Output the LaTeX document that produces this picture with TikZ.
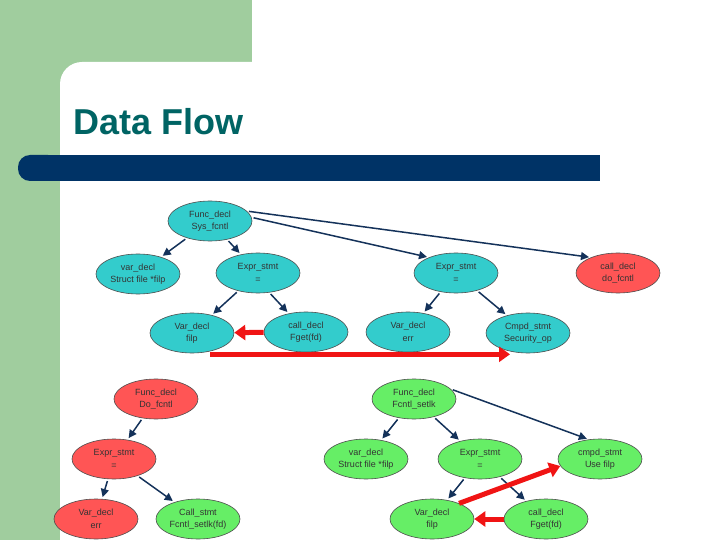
\documentclass[tikz,border=0pt]{standalone}
\usepackage{fontspec}
\setmainfont{Liberation Sans}
\usetikzlibrary{shapes.geometric,arrows.meta}
\definecolor{slidegreen}{RGB}{160,205,158}
\definecolor{barblue}{RGB}{0,51,102}
\definecolor{titleteal}{RGB}{0,100,100}
\definecolor{cyanfill}{RGB}{51,204,204}
\definecolor{redfill}{RGB}{255,85,85}
\definecolor{greenfill}{RGB}{102,238,102}
\definecolor{arrowblue}{RGB}{20,50,90}
\definecolor{deparrow}{RGB}{240,20,20}
\begin{document}
\begin{tikzpicture}[x=1pt,y=-1pt,
	astnode/.style={ellipse, draw=black!70, line width=0.6pt, minimum width=84pt, minimum height=40pt, inner sep=0pt, align=center, text=black!80, font=\fontsize{9}{12.5}\selectfont},
	cnode/.style={astnode, fill=cyanfill},
	rnode/.style={astnode, fill=redfill},
	gnode/.style={astnode, fill=greenfill},
	flow/.style={-{Triangle[length=8pt,width=8pt]}, arrowblue, line width=1.5pt, shorten <=2pt, shorten >=2pt},
	dep/.style={-{Triangle[length=11pt,width=15pt]}, deparrow, line width=5pt}]
	\useasboundingbox (0,0) rectangle (720,540);
	% slide background
	\fill[slidegreen] (0,0) rectangle (252,100);
	\fill[slidegreen] (0,0) rectangle (60,540);
	\fill[white, rounded corners=22pt] (60,62) rectangle (760,580);
	\fill[barblue, rounded corners=12pt] (18,155) rectangle (60,181);
	\fill[barblue] (40,155) rectangle (600,181);
	\node[anchor=base west, text=titleteal, font=\fontsize{36}{40}\selectfont\bfseries, inner sep=0pt] (title) at (73,135) {Data Flow};
	% tree of Sys_fcntl
	\node[cnode] (sysfcntl) at (210,221) {Func\_decl\\Sys\_fcntl};
	\node[cnode] (svar) at (138,274) {var\_decl\\Struct file *filp};
	\node[cnode] (sexpr) at (258,273) {Expr\_stmt\\=};
	\node[cnode] (sexprb) at (456,273) {Expr\_stmt\\=};
	\node[rnode] (sdo) at (618,273) {call\_decl\\do\_fcntl};
	\node[cnode] (sfilp) at (192,333) {Var\_decl\\filp};
	\node[cnode] (sfget) at (306,332) {call\_decl\\Fget(fd)};
	\node[cnode] (serr) at (408,332) {Var\_decl\\err};
	\node[cnode] (scmpd) at (528,333) {Cmpd\_stmt\\Security\_op};
	\draw[flow] (sysfcntl) -- (svar);
	\draw[flow] (sysfcntl) -- (sexpr);
	\draw[flow] (sysfcntl.5) -- (sexprb.150);
	\draw[flow] (sysfcntl.15) -- (sdo.150);
	\draw[flow] (sexpr) -- (sfilp);
	\draw[flow] (sexpr.-60) -- (sfget);
	\draw[flow] (sexprb) -- (serr);
	\draw[flow] (sexprb) -- (scmpd);
	\draw[dep] (sfget) -- (sfilp);
	\draw[dep] ([xshift=18pt,yshift=-1pt]sfilp.south) -- ([xshift=-18pt,yshift=-1pt]scmpd.south);
	% tree of Do_fcntl
	\node[rnode] (dofcntl) at (156,399) {Func\_decl\\Do\_fcntl};
	\node[rnode] (dexpr) at (114,459) {Expr\_stmt\\=};
	\node[rnode] (derr) at (96,519) {Var\_decl\\err};
	\node[gnode] (dcall) at (198,519) {Call\_stmt\\Fcntl\_setlk(fd)};
	\draw[flow] (dofcntl) -- (dexpr);
	\draw[flow] (dexpr) -- (derr);
	\draw[flow] (dexpr) -- (dcall);
	% tree of Fcntl_setlk
	\node[gnode] (setlk) at (414,399) {Func\_decl\\Fcntl\_setlk};
	\node[gnode] (lvar) at (366,459) {var\_decl\\Struct file *filp};
	\node[gnode] (lexpr) at (480,459) {Expr\_stmt\\=};
	\node[gnode] (lcmpd) at (600,459) {cmpd\_stmt\\Use filp};
	\node[gnode] (lfilp) at (432,519) {Var\_decl\\filp};
	\node[gnode] (lfget) at (546,519) {call\_decl\\Fget(fd)};
	\draw[flow] (setlk) -- (lvar);
	\draw[flow] (setlk) -- (lexpr);
	\draw[flow] (setlk.15) -- (lcmpd.120);
	\draw[flow] (lexpr) -- (lfilp);
	\draw[flow] (lexpr) -- (lfget);
	\draw[dep] (lfget) -- (lfilp);
	\draw[dep] (lfilp.30) -- (lcmpd.190);
\end{tikzpicture}
\end{document}
